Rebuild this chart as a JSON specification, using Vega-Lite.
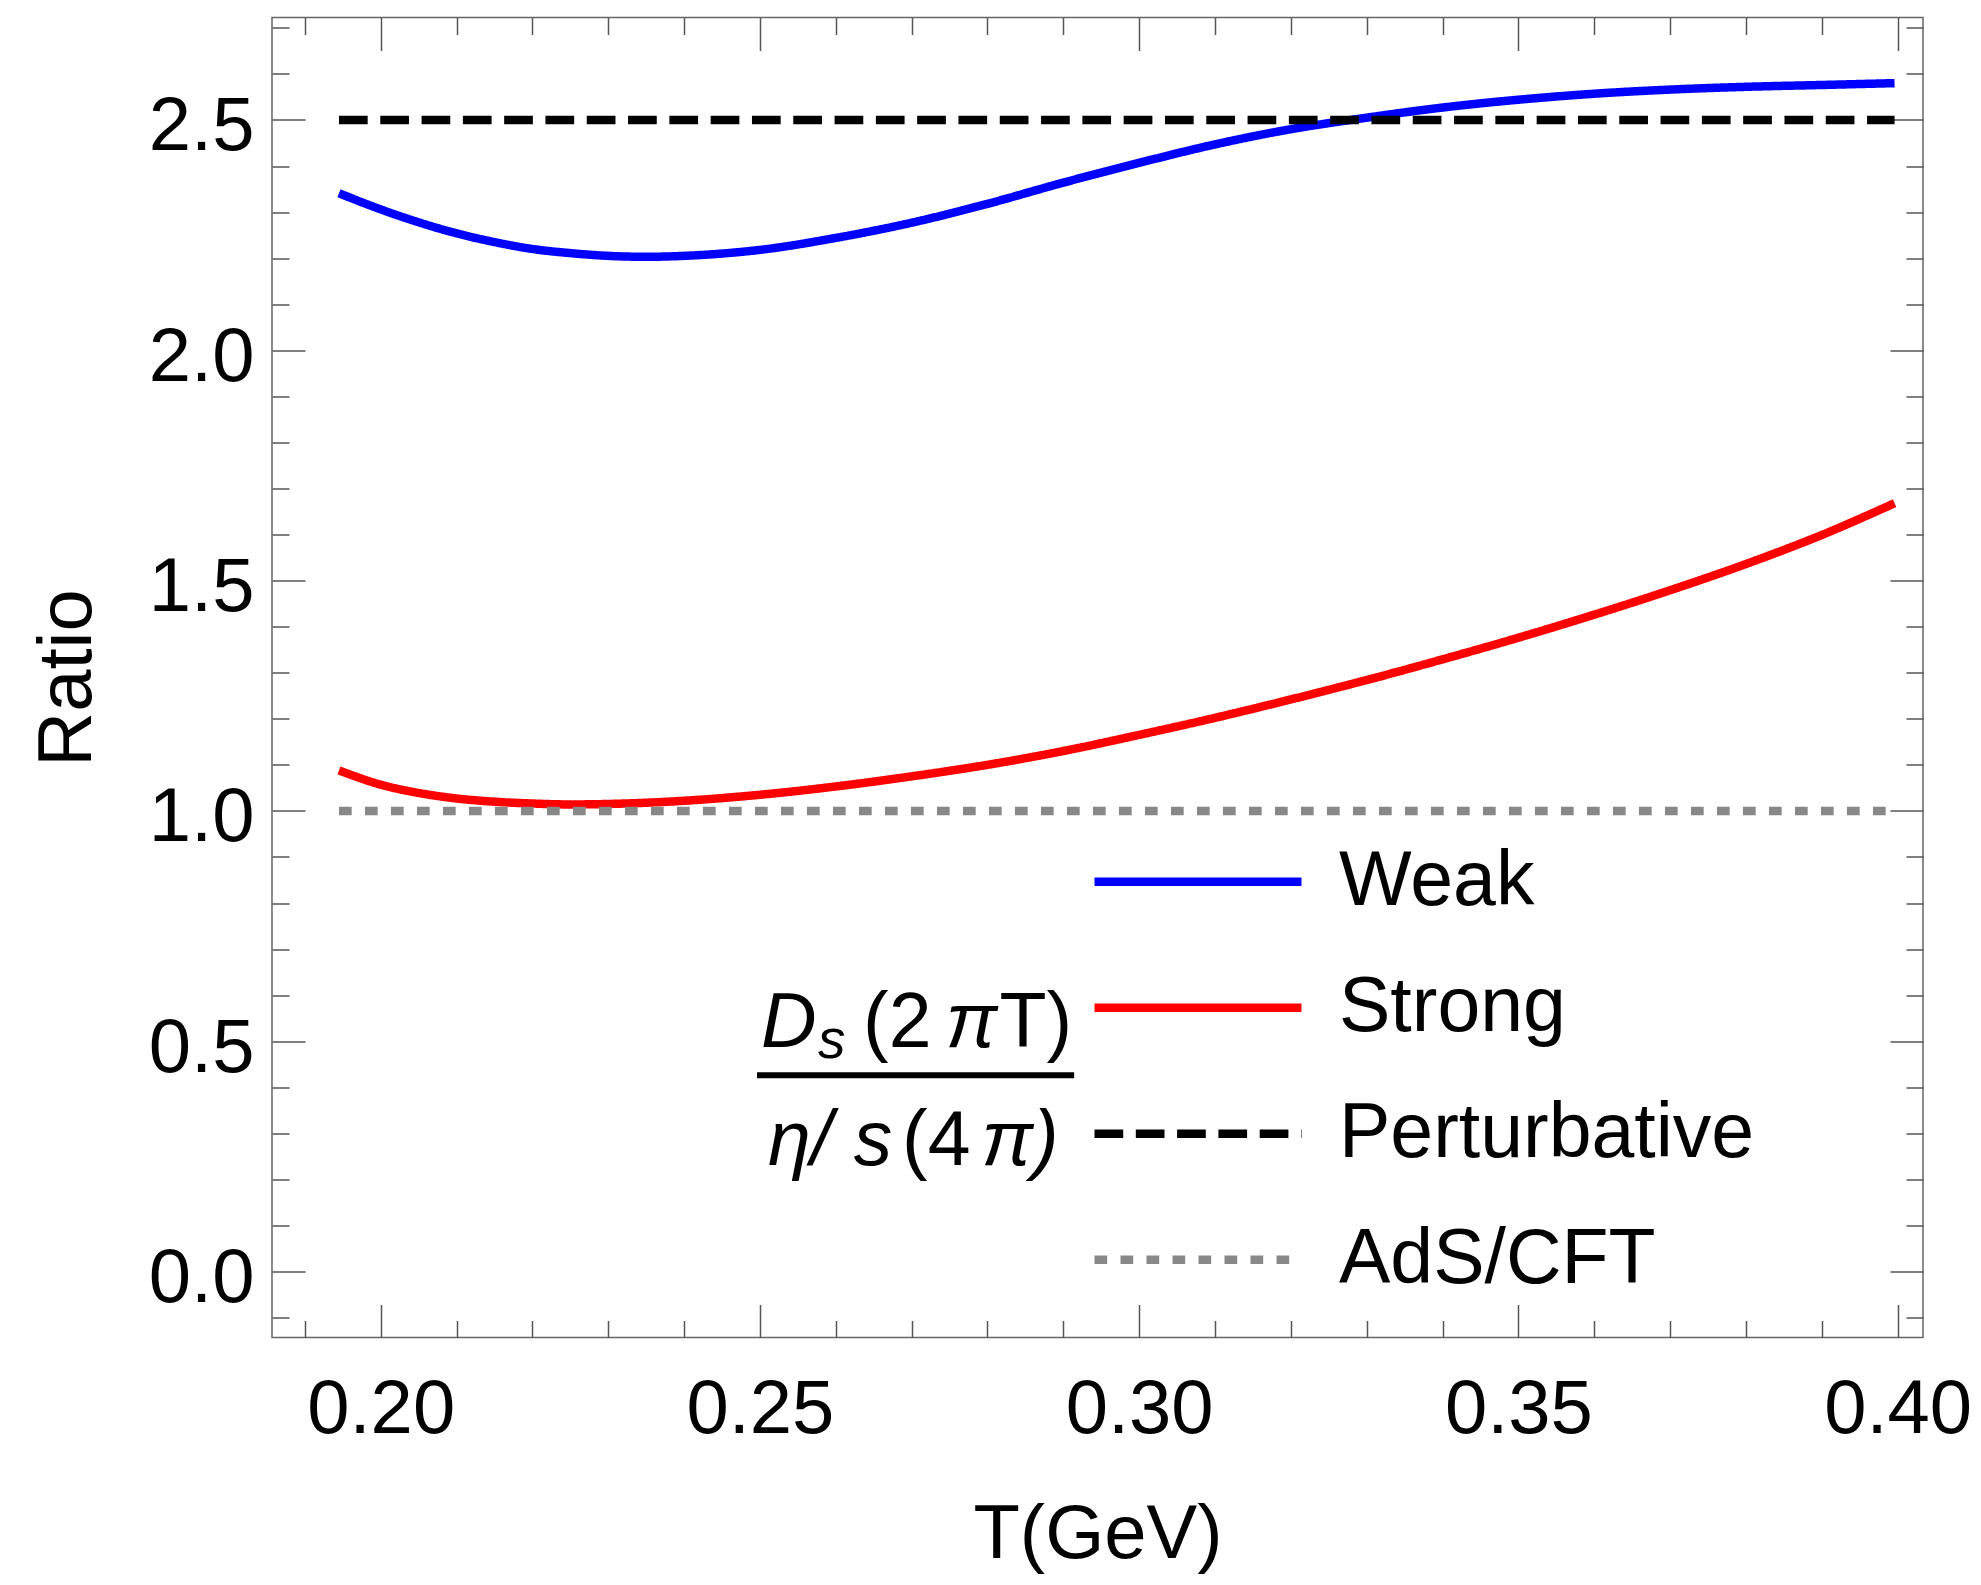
{
  "$schema": "https://vega.github.io/schema/vega-lite/v6.json",
  "width": 1651,
  "height": 1320,
  "autosize": "none",
  "padding": {"left": 272, "top": 17.5, "right": 58, "bottom": 247.5},
  "background": "white",
  "config": {
    "view": {"stroke": "#666666", "strokeWidth": 1.5},
    "font": "Liberation Sans",
    "axis": {"grid": false, "domain": false, "labelColor": "black", "titleColor": "black", "labelFont": "Liberation Sans", "titleFont": "Liberation Sans", "titleFontWeight": "normal"}
  },
  "datasets": {
    "curves": [
      {"series": "Weak", "T": 0.1945, "ratio": 2.341},
      {"series": "Weak", "T": 0.200, "ratio": 2.306},
      {"series": "Weak", "T": 0.205, "ratio": 2.278},
      {"series": "Weak", "T": 0.210, "ratio": 2.254},
      {"series": "Weak", "T": 0.215, "ratio": 2.235},
      {"series": "Weak", "T": 0.220, "ratio": 2.220},
      {"series": "Weak", "T": 0.225, "ratio": 2.211},
      {"series": "Weak", "T": 0.230, "ratio": 2.205},
      {"series": "Weak", "T": 0.235, "ratio": 2.203},
      {"series": "Weak", "T": 0.240, "ratio": 2.205},
      {"series": "Weak", "T": 0.245, "ratio": 2.210},
      {"series": "Weak", "T": 0.250, "ratio": 2.218},
      {"series": "Weak", "T": 0.260, "ratio": 2.244},
      {"series": "Weak", "T": 0.270, "ratio": 2.277},
      {"series": "Weak", "T": 0.280, "ratio": 2.318},
      {"series": "Weak", "T": 0.290, "ratio": 2.364},
      {"series": "Weak", "T": 0.300, "ratio": 2.407},
      {"series": "Weak", "T": 0.310, "ratio": 2.447},
      {"series": "Weak", "T": 0.320, "ratio": 2.480},
      {"series": "Weak", "T": 0.330, "ratio": 2.505},
      {"series": "Weak", "T": 0.340, "ratio": 2.527},
      {"series": "Weak", "T": 0.350, "ratio": 2.544},
      {"series": "Weak", "T": 0.360, "ratio": 2.557},
      {"series": "Weak", "T": 0.370, "ratio": 2.566},
      {"series": "Weak", "T": 0.380, "ratio": 2.572},
      {"series": "Weak", "T": 0.390, "ratio": 2.576},
      {"series": "Weak", "T": 0.3996, "ratio": 2.580},
      {"series": "Strong", "T": 0.1945, "ratio": 1.088},
      {"series": "Strong", "T": 0.200, "ratio": 1.057},
      {"series": "Strong", "T": 0.205, "ratio": 1.039},
      {"series": "Strong", "T": 0.210, "ratio": 1.027},
      {"series": "Strong", "T": 0.215, "ratio": 1.020},
      {"series": "Strong", "T": 0.220, "ratio": 1.016},
      {"series": "Strong", "T": 0.225, "ratio": 1.014},
      {"series": "Strong", "T": 0.230, "ratio": 1.015},
      {"series": "Strong", "T": 0.240, "ratio": 1.022},
      {"series": "Strong", "T": 0.250, "ratio": 1.035},
      {"series": "Strong", "T": 0.260, "ratio": 1.053},
      {"series": "Strong", "T": 0.270, "ratio": 1.075},
      {"series": "Strong", "T": 0.280, "ratio": 1.100},
      {"series": "Strong", "T": 0.290, "ratio": 1.130},
      {"series": "Strong", "T": 0.300, "ratio": 1.165},
      {"series": "Strong", "T": 0.310, "ratio": 1.202},
      {"series": "Strong", "T": 0.320, "ratio": 1.242},
      {"series": "Strong", "T": 0.330, "ratio": 1.284},
      {"series": "Strong", "T": 0.340, "ratio": 1.329},
      {"series": "Strong", "T": 0.350, "ratio": 1.376},
      {"series": "Strong", "T": 0.360, "ratio": 1.426},
      {"series": "Strong", "T": 0.370, "ratio": 1.479},
      {"series": "Strong", "T": 0.380, "ratio": 1.536},
      {"series": "Strong", "T": 0.390, "ratio": 1.599},
      {"series": "Strong", "T": 0.3996, "ratio": 1.668},
      {"series": "Perturbative", "T": 0.1945, "ratio": 2.5},
      {"series": "Perturbative", "T": 0.3996, "ratio": 2.5},
      {"series": "AdS/CFT", "T": 0.1945, "ratio": 1.0},
      {"series": "AdS/CFT", "T": 0.3996, "ratio": 1.0}
    ]
  },
  "data": {"name": "curves"},
  "layer": [
    {
      "transform": [{"filter": "datum.series === 'Weak' || datum.series === 'Strong'"}],
      "mark": {"type": "line", "strokeWidth": 8.5, "interpolate": "monotone"},
      "encoding": {
        "x": {"field": "T", "type": "quantitative",
          "scale": {"domain": [0.18567, 0.40335], "nice": false, "zero": false},
          "axis": {"orient": "bottom", "values": [0.2, 0.25, 0.3, 0.35, 0.4], "format": ".2f", "ticks": false,
            "labelFontSize": 76, "labelPadding": 35, "labelFlush": false, "labelOverlap": false,
            "title": "T(GeV)", "titleFontSize": 76, "titlePadding": 50}},
        "y": {"field": "ratio", "type": "quantitative",
          "scale": {"domain": [-0.1433, 2.7225], "nice": false, "zero": false},
          "axis": {"orient": "left", "values": [0, 0.5, 1, 1.5, 2, 2.5], "format": ".1f", "ticks": false,
            "labelFontSize": 76, "labelPadding": 18, "labelOffset": 7, "labelFlush": false, "labelOverlap": false,
            "title": "Ratio", "titleFontSize": 76, "titlePadding": 42}},
        "color": {"field": "series", "type": "nominal",
          "scale": {"domain": ["Weak", "Strong", "Perturbative", "AdS/CFT"], "range": ["#0000ff", "#ff0000", "#000000", "#888888"]},
          "legend": {"title": null, "orient": "none", "legendX": 818, "legendY": 801.5, "padding": 0, "offset": 0,
            "symbolType": "stroke", "symbolSize": 42849, "symbolStrokeWidth": 8.5, "clipHeight": 125.5, "rowPadding": 0,
            "labelFontSize": 77, "labelFont": "Liberation Sans", "labelColor": "black", "labelOffset": 33, "labelLimit": 600}},
        "strokeDash": {"field": "series", "type": "nominal",
          "scale": {"domain": ["Weak", "Strong", "Perturbative", "AdS/CFT"], "range": [[1, 0], [1, 0], [28.7, 12.6], [12.7, 13.3]]},
          "legend": {"title": null, "orient": "none", "legendX": 818, "legendY": 801.5, "padding": 0, "offset": 0,
            "symbolType": "stroke", "symbolSize": 42849, "symbolStrokeWidth": 8.5, "clipHeight": 125.5, "rowPadding": 0,
            "labelFontSize": 77, "labelFont": "Liberation Sans", "labelColor": "black", "labelOffset": 33, "labelLimit": 600}}
      }
    },
    {
      "transform": [{"filter": "datum.series === 'Perturbative'"}],
      "mark": {"type": "line", "strokeWidth": 8.5},
      "encoding": {
        "x": {"field": "T", "type": "quantitative",
          "scale": {"domain": [0.18567, 0.40335], "nice": false, "zero": false},
          "axis": {"orient": "bottom", "labels": false, "title": null, "ticks": true,
            "values": [0.19, 0.2, 0.21, 0.22, 0.23, 0.24, 0.25, 0.26, 0.27, 0.28, 0.29, 0.3, 0.31, 0.32, 0.33, 0.34, 0.35, 0.36, 0.37, 0.38, 0.39, 0.4],
            "tickColor": "#555555", "tickWidth": 1.5,
            "tickSize": {"condition": {"test": "abs(datum.value*20 - round(datum.value*20)) < 0.01", "value": -33}, "value": -17}}},
        "y": {"field": "ratio", "type": "quantitative",
          "scale": {"domain": [-0.1433, 2.7225], "nice": false, "zero": false},
          "axis": {"orient": "left", "labels": false, "title": null, "ticks": true,
            "values": [-0.1, 0, 0.1, 0.2, 0.3, 0.4, 0.5, 0.6, 0.7, 0.8, 0.9, 1, 1.1, 1.2, 1.3, 1.4, 1.5, 1.6, 1.7, 1.8, 1.9, 2, 2.1, 2.2, 2.3, 2.4, 2.5, 2.6, 2.7],
            "tickColor": "#555555", "tickWidth": 1.5,
            "tickSize": {"condition": {"test": "abs(datum.value*2 - round(datum.value*2)) < 0.01", "value": -33}, "value": -17}}},
        "color": {"field": "series", "type": "nominal",
          "scale": {"domain": ["Weak", "Strong", "Perturbative", "AdS/CFT"], "range": ["#0000ff", "#ff0000", "#000000", "#888888"]}, "legend": null},
        "strokeDash": {"field": "series", "type": "nominal",
          "scale": {"domain": ["Weak", "Strong", "Perturbative", "AdS/CFT"], "range": [[1, 0], [1, 0], [28.7, 12.6], [12.7, 13.3]]}, "legend": null}
      }
    },
    {
      "transform": [{"filter": "datum.series === 'AdS/CFT'"}],
      "mark": {"type": "line", "strokeWidth": 8.5},
      "encoding": {
        "x": {"field": "T", "type": "quantitative",
          "scale": {"domain": [0.18567, 0.40335], "nice": false, "zero": false},
          "axis": {"orient": "top", "labels": false, "title": null, "ticks": true,
            "values": [0.19, 0.2, 0.21, 0.22, 0.23, 0.24, 0.25, 0.26, 0.27, 0.28, 0.29, 0.3, 0.31, 0.32, 0.33, 0.34, 0.35, 0.36, 0.37, 0.38, 0.39, 0.4],
            "tickColor": "#555555", "tickWidth": 1.5,
            "tickSize": {"condition": {"test": "abs(datum.value*20 - round(datum.value*20)) < 0.01", "value": -33}, "value": -17}}},
        "y": {"field": "ratio", "type": "quantitative",
          "scale": {"domain": [-0.1433, 2.7225], "nice": false, "zero": false},
          "axis": {"orient": "right", "labels": false, "title": null, "ticks": true,
            "values": [-0.1, 0, 0.1, 0.2, 0.3, 0.4, 0.5, 0.6, 0.7, 0.8, 0.9, 1, 1.1, 1.2, 1.3, 1.4, 1.5, 1.6, 1.7, 1.8, 1.9, 2, 2.1, 2.2, 2.3, 2.4, 2.5, 2.6, 2.7],
            "tickColor": "#555555", "tickWidth": 1.5,
            "tickSize": {"condition": {"test": "abs(datum.value*2 - round(datum.value*2)) < 0.01", "value": -33}, "value": -17}}},
        "color": {"field": "series", "type": "nominal",
          "scale": {"domain": ["Weak", "Strong", "Perturbative", "AdS/CFT"], "range": ["#0000ff", "#ff0000", "#000000", "#888888"]}, "legend": null},
        "strokeDash": {"field": "series", "type": "nominal",
          "scale": {"domain": ["Weak", "Strong", "Perturbative", "AdS/CFT"], "range": [[1, 0], [1, 0], [28.7, 12.6], [12.7, 13.3]]}, "legend": null}
      }
    },
    {
      "data": {"values": [{"txt": "D"}]},
      "mark": {"type": "text", "align": "left", "baseline": "alphabetic", "fontSize": 77, "fontStyle": "italic", "font": "Liberation Sans", "color": "black"},
      "encoding": {"text": {"field": "txt"}, "x": {"datum": 0.25015, "type": "quantitative", "axis": null}, "y": {"datum": 0.48839, "type": "quantitative", "axis": null}}
    },
    {
      "data": {"values": [{"txt": "s"}]},
      "mark": {"type": "text", "align": "left", "baseline": "alphabetic", "fontSize": 55, "fontStyle": "italic", "font": "Liberation Sans", "color": "black"},
      "encoding": {"text": {"field": "txt"}, "x": {"datum": 0.25765, "type": "quantitative", "axis": null}, "y": {"datum": 0.46386, "type": "quantitative", "axis": null}}
    },
    {
      "data": {"values": [{"txt": "(2"}]},
      "mark": {"type": "text", "align": "left", "baseline": "alphabetic", "fontSize": 77, "font": "Liberation Sans", "color": "black"},
      "encoding": {"text": {"field": "txt"}, "x": {"datum": 0.2636, "type": "quantitative", "axis": null}, "y": {"datum": 0.48839, "type": "quantitative", "axis": null}}
    },
    {
      "data": {"values": [{"txt": "π"}]},
      "mark": {"type": "text", "align": "left", "baseline": "alphabetic", "fontSize": 77, "fontStyle": "italic", "font": "Liberation Sans", "color": "black"},
      "encoding": {"text": {"field": "txt"}, "x": {"datum": 0.2745, "type": "quantitative", "axis": null}, "y": {"datum": 0.48839, "type": "quantitative", "axis": null}}
    },
    {
      "data": {"values": [{"txt": "T)"}]},
      "mark": {"type": "text", "align": "left", "baseline": "alphabetic", "fontSize": 77, "font": "Liberation Sans", "color": "black"},
      "encoding": {"text": {"field": "txt"}, "x": {"datum": 0.2816, "type": "quantitative", "axis": null}, "y": {"datum": 0.48839, "type": "quantitative", "axis": null}}
    },
    {
      "data": {"values": [{"txt": "bar"}]},
      "mark": {"type": "rule", "strokeWidth": 6, "color": "black"},
      "encoding": {"x": {"datum": 0.24962, "type": "quantitative", "axis": null}, "x2": {"datum": 0.29143}, "y": {"datum": 0.42631, "type": "quantitative", "axis": null}}
    },
    {
      "data": {"values": [{"txt": "η/ s"}]},
      "mark": {"type": "text", "align": "left", "baseline": "alphabetic", "fontSize": 77, "fontStyle": "italic", "font": "Liberation Sans", "color": "black"},
      "encoding": {"text": {"field": "txt"}, "x": {"datum": 0.25108, "type": "quantitative", "axis": null}, "y": {"datum": 0.2316, "type": "quantitative", "axis": null}}
    },
    {
      "data": {"values": [{"txt": "(4"}]},
      "mark": {"type": "text", "align": "left", "baseline": "alphabetic", "fontSize": 77, "font": "Liberation Sans", "color": "black"},
      "encoding": {"text": {"field": "txt"}, "x": {"datum": 0.26875, "type": "quantitative", "axis": null}, "y": {"datum": 0.2316, "type": "quantitative", "axis": null}}
    },
    {
      "data": {"values": [{"txt": "π)"}]},
      "mark": {"type": "text", "align": "left", "baseline": "alphabetic", "fontSize": 77, "font": "Liberation Sans", "color": "black", "fontStyle": "italic"},
      "encoding": {"text": {"field": "txt"}, "x": {"datum": 0.2792, "type": "quantitative", "axis": null}, "y": {"datum": 0.2316, "type": "quantitative", "axis": null}}
    }
  ],
  "resolve": {"axis": {"x": "independent", "y": "independent"}}
}
